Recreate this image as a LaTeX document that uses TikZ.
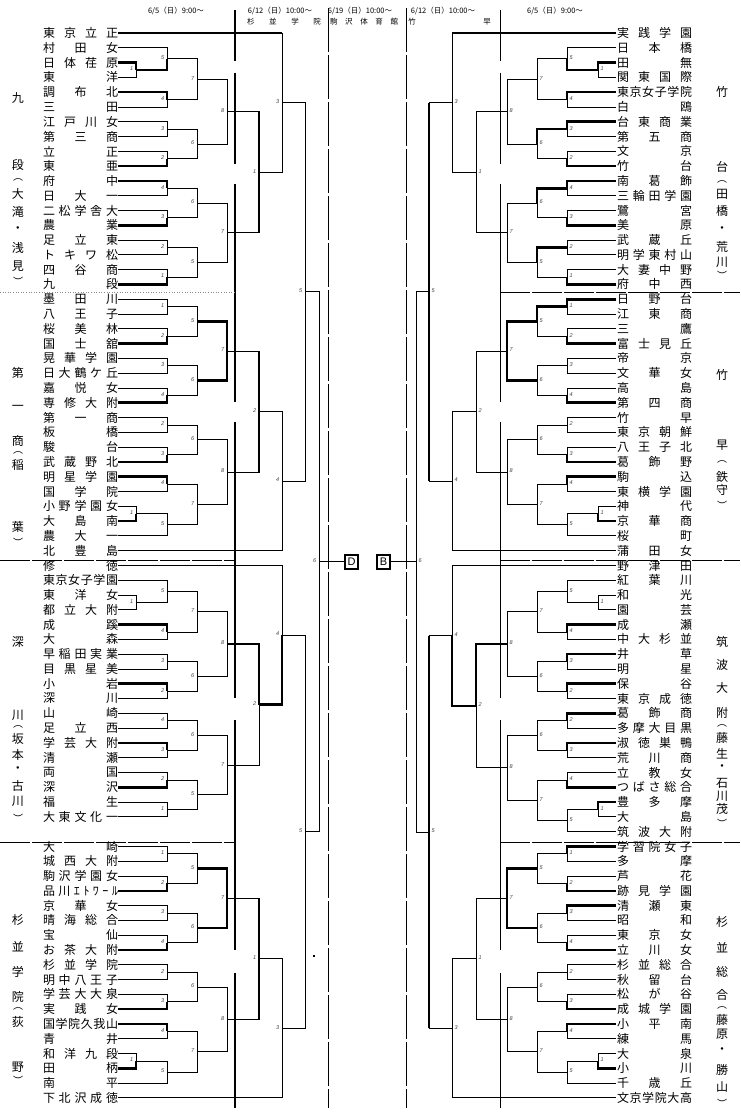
\documentclass[tikz,border=0pt]{standalone}
\usepackage{fontspec}
\setmainfont{Noto Sans CJK JP}
\newfontfamily\numfont{Liberation Sans}
\makeatletter
\def\jnend{}
\newcommand\jnx[2]{\makebox[#1][s]{\jn@loop#2\jnend}}
\def\jn@loop#1#2{#1\ifx#2\jnend\else\hfill\expandafter\jn@loop\expandafter#2\fi}
\makeatother
\newcount\mcnt
\newcommand\Y[1]{(33+14.79*(#1))}
\tikzset{
  ln/.style={line width=0.8pt},
  tk/.style={line width=2.6pt, line join=miter},
  tname/.style={font=\fontsize{12}{12}\selectfont, inner sep=0pt},
  lbl/.style={font=\numfont\itshape\fontsize{5.5}{6}\selectfont, text=black!75, inner sep=0pt},
  dist/.style={font=\fontsize{12}{12}\selectfont, inner sep=0pt},
  par/.style={font=\fontsize{10}{10}\selectfont, inner sep=0pt},
  hd/.style={font=\fontsize{7.5}{8}\selectfont, inner sep=0pt},
  septhick/.style={line width=2.4pt},
  septhin/.style={line width=0.8pt},
  dbox/.style={draw, line width=1.6pt, minimum width=13pt, minimum height=14pt, inner sep=0pt, font=\numfont\fontsize{11}{11}\selectfont},
}
% match: #1 x of vertical, #2 row a, #3 x start a, #4 row b, #5 x start b, #6 thick a/b/f/x/n, #7 label
\newcommand\MT[7]{%
  \draw[ln] ({#3},{\Y{#2}}) -- ({#1},{\Y{#2}}) -- ({#1},{\Y{#4}}) -- ({#5},{\Y{#4}});
  \if a#6\draw[tk] ({#3},{\Y{#2}}) -- ({#1},{\Y{#2}}) -- ({#1},{\Y{(#2+#4)/2}});\fi
  \if b#6\draw[tk] ({#5},{\Y{#4}}) -- ({#1},{\Y{#4}}) -- ({#1},{\Y{(#2+#4)/2}});\fi
  \if f#6\draw[tk] ({#1},{\Y{#2}}) -- ({#1},{\Y{#4}});\fi
  \if x#6\draw[tk] ({#3},{\Y{#2}}) -- ({#1},{\Y{#2}}) -- ({#1},{\Y{#4}}) -- ({#5},{\Y{#4}});\fi
  \global\advance\mcnt by 1
}
\newcommand\LM[7]{\MT{#1}{#2}{#3}{#4}{#5}{#6}{#7}%
  \node[lbl,anchor=east] (ml\the\mcnt) at ({#1-2.5},{\Y{(#2+#4)/2}-1}) {#7};}
\newcommand\RM[7]{\MT{#1}{#2}{#3}{#4}{#5}{#6}{#7}%
  \node[lbl,anchor=west] (mr\the\mcnt) at ({#1+2.5},{\Y{(#2+#4)/2}-1}) {#7};}
\newcommand\TL[2]{\node[tname] (tl#1) at (80.5,{\Y{#1}}) {\jnx{75pt}{#2}};}
\newcommand\TR[2]{\node[tname] (tr#1) at (654.5,{\Y{#1}}) {\jnx{75pt}{#2}};}
\newcommand\DL[3]{\node[dist] (#1) at (18,#2) {#3};}
\newcommand\DR[3]{\node[dist] (#1) at (722,#2) {#3};}
\newcommand\PL[3]{\node[par] (#1) at (18,#2) {#3};}
\newcommand\PR[3]{\node[par] (#1) at (722,#2) {#3};}
\begin{document}
\begin{tikzpicture}[x=1pt,y=-1pt]
\useasboundingbox (0,0) rectangle (740,1118);
\fill[white] (0,0) rectangle (740,1118);
% ---------- headers
\node[hd] (h1) at (176,11) {6/5（日）9:00〜};
\node[hd] (h2) at (280,11) {6/12（日）10:00〜};
\node[hd] (h3) at (284,22) {\jnx{74pt}{杉並学院}};
\node[hd] (h4) at (360,11) {6/19（日）10:00〜};
\node[hd] (h5) at (364,22) {\jnx{68pt}{駒沢体育館}};
\node[hd] (h6) at (443,11) {6/12（日）10:00〜};
\node[hd] (h7) at (412,22) {竹};
\node[hd] (h8) at (487,22) {早};
\node[hd] (h9) at (555,11) {6/5（日）9:00〜};
% ---------- separators
\foreach \a/\b in {10/61,73/164,184/402,422/698,720/950,973/1108}{
  \draw[septhick] (235,\a) -- (235,\b);
  \draw[septhin] (500,\a) -- (500,\b);
}
\draw[septhin, dash pattern=on 44pt off 3pt] (328,8) -- (328,1108);
\draw[septhin, dash pattern=on 44pt off 3pt] (406,8) -- (406,1108);
\draw[line width=0.6pt, black!45, dotted] (0,292) -- (235,292);
\foreach \yy in {560,842}{
  \draw[septhin, dash pattern=on 30pt off 2pt] (0,\yy) -- (235,\yy);
}
\foreach \yy in {292,560,842}{
  \draw[septhin, dash pattern=on 30pt off 2pt] (500,\yy) -- (740,\yy);
}
% ---------- left teams
\TL{0}{東京立正}\TL{1}{村田女}\TL{2}{日体荏原}\TL{3}{東洋}\TL{4}{調布北}\TL{5}{三田}
\TL{6}{江戸川女}\TL{7}{第三商}\TL{8}{立正}\TL{9}{東亜}\TL{10}{府中}\TL{11}{日大一}
\TL{12}{二松学舎大}\TL{13}{農業}\TL{14}{足立東}\TL{15}{トキワ松}\TL{16}{四谷商}\TL{17}{九段}
\TL{18}{墨田川}\TL{19}{八王子}\TL{20}{桜美林}\TL{21}{国士舘}\TL{22}{晃華学園}\TL{23}{日大鶴ケ丘}
\TL{24}{嘉悦女}\TL{25}{専修大附}\TL{26}{第一商}\TL{27}{板橋}\TL{28}{駿台}\TL{29}{武蔵野北}
\TL{30}{明星学園}\TL{31}{国学院}\TL{32}{小野学園女}\TL{33}{大島南}\TL{34}{農大一}\TL{35}{北豊島}
\TL{36}{修徳}\TL{37}{東京女子学園}\TL{38}{東洋女}\TL{39}{都立大附}\TL{40}{成蹊}\TL{41}{大森}
\TL{42}{早稲田実業}\TL{43}{目黒星美}\TL{44}{小岩}\TL{45}{深川}\TL{46}{山崎}\TL{47}{足立西}
\TL{48}{学芸大附}\TL{49}{清瀬}\TL{50}{両国}\TL{51}{深沢}\TL{52}{福生}\TL{53}{大東文化一}
\TL{55}{大崎}\TL{56}{城西大附}\TL{57}{駒沢学園女}\TL{58}{品川ｴﾄﾜｰﾙ}\TL{59}{京華女}\TL{60}{晴海総合}
\TL{61}{宝仙}\TL{62}{お茶大附}\TL{63}{杉並学院}\TL{64}{明中八王子}\TL{65}{学芸大大泉}\TL{66}{実践女}
\TL{67}{国学院久我山}\TL{68}{青井}\TL{69}{和洋九段}\TL{70}{田柄}\TL{71}{南平}\TL{72}{下北沢成徳}
% ---------- right teams
\TR{0}{実践学園}\TR{1}{日本橋}\TR{2}{田無}\TR{3}{関東国際}\TR{4}{東京女子学院}\TR{5}{白鴎}
\TR{6}{台東商業}\TR{7}{第五商}\TR{8}{文京}\TR{9}{竹台}\TR{10}{南葛飾}\TR{11}{三輪田学園}
\TR{12}{鷺宮}\TR{13}{美原}\TR{14}{武蔵丘}\TR{15}{明学東村山}\TR{16}{大妻中野}\TR{17}{府中西}
\TR{18}{日野台}\TR{19}{江東商}\TR{20}{三鷹}\TR{21}{富士見丘}\TR{22}{帝京}\TR{23}{文華女}
\TR{24}{高島}\TR{25}{第四商}\TR{26}{竹早}\TR{27}{東京朝鮮}\TR{28}{八王子北}\TR{29}{葛飾野}
\TR{30}{駒込}\TR{31}{東横学園}\TR{32}{神代}\TR{33}{京華商}\TR{34}{桜町}\TR{35}{蒲田女}
\TR{36}{野津田}\TR{37}{紅葉川}\TR{38}{和光}\TR{39}{園芸}\TR{40}{成瀬}\TR{41}{中大杉並}
\TR{42}{井草}\TR{43}{明星}\TR{44}{保谷}\TR{45}{東京成徳}\TR{46}{葛飾商}\TR{47}{多摩大目黒}
\TR{48}{淑徳巣鴨}\TR{49}{荒川商}\TR{50}{立教女}\TR{51}{つばさ総合}\TR{52}{豊多摩}\TR{53}{大島}
\TR{54}{筑波大附}
\TR{55}{学習院女子}\TR{56}{多摩}\TR{57}{芦花}\TR{58}{跡見学園}\TR{59}{清瀬東}\TR{60}{昭和}
\TR{61}{東京女}\TR{62}{立川女}\TR{63}{杉並総合}\TR{64}{秋留台}\TR{65}{松が谷}\TR{66}{成城学園}
\TR{67}{小平南}\TR{68}{練馬}\TR{69}{大泉}\TR{70}{小川}\TR{71}{千歳丘}\TR{72}{文京学院大高}
% ---------- district labels
\DL{a1}{98}{九}\DL{a2}{165}{段}\PL{a3}{180}{︵}\DL{a4}{194}{大}\DL{a5}{212}{滝}\DL{a6}{230}{・}\DL{a7}{248}{浅}\DL{a8}{266}{見}\PL{a9}{281}{︶}
\DL{b1}{373}{第}\DL{b2}{408}{一}\DL{b3}{441}{商}\PL{b4}{453}{︵}\DL{b5}{465}{稲}\DL{b6}{527}{葉}\PL{b7}{542}{︶}
\DL{c1}{642}{深}\DL{c2}{715}{川}\PL{c3}{727}{︵}\DL{c4}{739}{坂}\DL{c5}{755}{本}\DL{c6}{770}{・}\DL{c7}{786}{古}\DL{c8}{801}{川}\PL{c9}{818}{︶}
\DL{d1}{920}{杉}\DL{d2}{947}{並}\DL{d3}{972}{学}\DL{d4}{997}{院}\PL{d5}{1009}{︵}\DL{d6}{1022}{荻}\DL{d7}{1067}{野}\PL{d8}{1080}{︶}
\DR{e1}{92}{竹}\DR{e2}{167}{台}\PR{e3}{181.5}{︵}\DR{e4}{194.5}{田}\DR{e5}{211}{橋}\DR{e6}{230}{・}\DR{e7}{247}{荒}\DR{e8}{262}{川}\PR{e9}{275}{︶}
\DR{f1}{375}{竹}\DR{f2}{445}{早}\PR{f3}{462}{︵}\DR{f4}{477}{鉄}\DR{f5}{490}{守}\PR{f6}{505}{︶}
\DR{g1}{642}{筑}\DR{g2}{665}{波}\DR{g3}{688}{大}\DR{g4}{713}{附}\PR{g5}{726}{︵}\DR{g6}{738}{藤}\DR{g7}{754}{生}\DR{g8}{768}{・}\DR{g9}{783}{石}\DR{g10}{796}{川}\DR{g11}{809}{茂}\PR{g12}{823}{︶}
\DR{k1}{922}{杉}\DR{k2}{948}{並}\DR{k3}{972}{総}\DR{k4}{995}{合}\PR{k5}{1008}{︵}\DR{k6}{1020}{藤}\DR{k7}{1034}{原}\DR{k8}{1051}{・}\DR{k9}{1070}{勝}\DR{k10}{1087}{山}\PR{k11}{1103}{︶}
% ---------- left block 1
\LM{136}{2}{118}{3}{118}{a}{1}
\LM{167}{1}{118}{2.5}{136}{b}{5}
\LM{167}{4}{118}{5}{118}{a}{4}
\LM{197}{1.75}{167}{4.5}{167}{n}{7}
\LM{167}{6}{118}{7}{118}{n}{3}
\LM{167}{8}{118}{9}{118}{b}{2}
\LM{197}{6.5}{167}{8.5}{167}{n}{6}
\LM{227}{3.125}{197}{7.5}{197}{n}{8}
\LM{167}{10}{118}{11}{118}{a}{4}
\LM{167}{12}{118}{13}{118}{b}{3}
\LM{197}{10.5}{167}{12.5}{167}{n}{6}
\LM{167}{14}{118}{15}{118}{n}{2}
\LM{167}{16}{118}{17}{118}{b}{1}
\LM{197}{14.5}{167}{16.5}{167}{n}{5}
\LM{227}{11.5}{197}{15.5}{197}{n}{7}
\LM{259}{5.3125}{227}{13.5}{227}{f}{1}
\LM{282}{0}{118}{9.40625}{259}{n}{3}
\draw[tk] (118,{\Y{0}}) -- (282,{\Y{0}});
% ---------- left block 2
\LM{167}{18}{118}{19}{118}{n}{1}
\LM{167}{20}{118}{21}{118}{b}{2}
\LM{197}{18.5}{167}{20.5}{167}{n}{5}
\LM{167}{22}{118}{23}{118}{n}{3}
\LM{167}{24}{118}{25}{118}{b}{4}
\LM{197}{22.5}{167}{24.5}{167}{n}{6}
\LM{227}{19.5}{197}{23.5}{197}{x}{7}
\LM{167}{26}{118}{27}{118}{n}{2}
\LM{167}{28}{118}{29}{118}{b}{3}
\LM{197}{26.5}{167}{28.5}{167}{n}{6}
\LM{167}{30}{118}{31}{118}{a}{4}
\LM{136}{32}{118}{33}{118}{b}{1}
\LM{167}{32.5}{136}{34}{118}{n}{5}
\LM{197}{30.5}{167}{33.25}{167}{n}{7}
\LM{227}{27.5}{197}{31.875}{197}{n}{8}
\LM{259}{21.5}{227}{29.6875}{227}{f}{2}
\LM{282}{25.59375}{259}{35}{118}{n}{4}
\LM{305}{4.703125}{282}{30.296875}{282}{n}{5}
% ---------- left block 3
\LM{136}{38}{118}{39}{118}{n}{1}
\LM{167}{37}{118}{38.5}{136}{n}{5}
\LM{167}{40}{118}{41}{118}{a}{4}
\LM{197}{37.75}{167}{40.5}{167}{n}{7}
\LM{167}{42}{118}{43}{118}{n}{3}
\LM{167}{44}{118}{45}{118}{a}{2}
\LM{197}{42.5}{167}{44.5}{167}{n}{6}
\LM{227}{39.125}{197}{43.5}{197}{n}{8}
\LM{167}{46}{118}{47}{118}{n}{4}
\LM{167}{48}{118}{49}{118}{a}{3}
\LM{197}{46.5}{167}{48.5}{167}{n}{6}
\LM{167}{50}{118}{51}{118}{b}{2}
\LM{167}{52}{118}{53}{118}{n}{1}
\LM{197}{50.5}{167}{52.5}{167}{n}{5}
\LM{227}{47.5}{197}{51.5}{197}{n}{7}
\LM{259}{41.3125}{227}{49.5}{227}{a}{2}
\LM{282}{36}{118}{45.40625}{259}{b}{4}
% ---------- left block 4
\LM{167}{55}{118}{56}{118}{n}{1}
\LM{167}{57}{118}{58}{118}{b}{2}
\LM{197}{55.5}{167}{57.5}{167}{n}{5}
\LM{167}{59}{118}{60}{118}{n}{3}
\LM{167}{61}{118}{62}{118}{b}{4}
\LM{197}{59.5}{167}{61.5}{167}{n}{6}
\LM{227}{56.5}{197}{60.5}{197}{x}{7}
\LM{167}{63}{118}{64}{118}{n}{2}
\LM{167}{65}{118}{66}{118}{b}{3}
\LM{197}{63.5}{167}{65.5}{167}{n}{6}
\LM{167}{67}{118}{68}{118}{a}{4}
\LM{136}{69}{118}{70}{118}{b}{1}
\LM{167}{69.5}{136}{71}{118}{n}{5}
\LM{197}{67.5}{167}{70.25}{167}{n}{7}
\LM{227}{64.5}{197}{68.875}{197}{n}{8}
\LM{259}{58.5}{227}{66.6875}{227}{f}{1}
\LM{282}{62.59375}{259}{72}{118}{n}{3}
\LM{305}{40.703125}{282}{67.296875}{282}{n}{5}
\LM{319}{17.5}{305}{54}{305}{n}{6}
% ---------- right block 1
\RM{598}{2}{616}{3}{616}{a}{1}
\RM{567}{1}{616}{2.5}{598}{b}{5}
\RM{567}{4}{616}{5}{616}{a}{4}
\RM{537}{1.75}{567}{4.5}{567}{n}{7}
\RM{567}{6}{616}{7}{616}{a}{3}
\RM{567}{8}{616}{9}{616}{b}{2}
\RM{537}{6.5}{567}{8.5}{567}{a}{6}
\RM{507}{3.125}{537}{7.5}{537}{n}{8}
\RM{567}{10}{616}{11}{616}{a}{4}
\RM{567}{12}{616}{13}{616}{b}{3}
\RM{537}{10.5}{567}{12.5}{567}{a}{6}
\RM{567}{14}{616}{15}{616}{n}{2}
\RM{567}{16}{616}{17}{616}{b}{1}
\RM{537}{14.5}{567}{16.5}{567}{a}{5}
\RM{507}{11.5}{537}{15.5}{537}{n}{7}
\RM{476}{5.3125}{507}{13.5}{507}{n}{1}
\RM{452}{0}{616}{9.40625}{476}{n}{3}
\draw[tk] (616,{\Y{0}}) -- (452,{\Y{0}});
% ---------- right block 2
\RM{567}{18}{616}{19}{616}{a}{1}
\RM{567}{20}{616}{21}{616}{b}{2}
\RM{537}{18.5}{567}{20.5}{567}{a}{5}
\RM{567}{22}{616}{23}{616}{n}{3}
\RM{567}{24}{616}{25}{616}{b}{4}
\RM{537}{22.5}{567}{24.5}{567}{n}{6}
\RM{507}{19.5}{537}{23.5}{537}{x}{7}
\RM{567}{26}{616}{27}{616}{n}{2}
\RM{567}{28}{616}{29}{616}{b}{3}
\RM{537}{26.5}{567}{28.5}{567}{n}{6}
\RM{567}{30}{616}{31}{616}{a}{4}
\RM{598}{32}{616}{33}{616}{b}{1}
\RM{567}{32.5}{598}{34}{616}{n}{5}
\RM{537}{30.5}{567}{33.25}{567}{n}{7}
\RM{507}{27.5}{537}{31.875}{537}{n}{8}
\RM{476}{21.5}{507}{29.6875}{507}{n}{2}
\RM{452}{25.59375}{476}{35}{616}{n}{4}
\RM{429}{4.703125}{452}{30.296875}{452}{f}{5}
% ---------- right block 3
\RM{598}{38}{616}{39}{616}{n}{1}
\RM{567}{37}{616}{38.5}{598}{n}{5}
\RM{567}{40}{616}{41}{616}{a}{4}
\RM{537}{37.75}{567}{40.5}{567}{n}{7}
\RM{567}{42}{616}{43}{616}{a}{3}
\RM{567}{44}{616}{45}{616}{a}{2}
\RM{537}{42.5}{567}{44.5}{567}{n}{6}
\RM{507}{39.125}{537}{43.5}{537}{n}{8}
\RM{567}{46}{616}{47}{616}{a}{2}
\RM{567}{48}{616}{49}{616}{a}{3}
\RM{537}{46.5}{567}{48.5}{567}{n}{6}
\RM{567}{50}{616}{51}{616}{b}{4}
\RM{598}{52}{616}{53}{616}{a}{1}
\RM{567}{52.5}{598}{54}{616}{n}{5}
\RM{537}{50.5}{567}{53.25}{567}{n}{7}
\RM{507}{47.5}{537}{51.875}{537}{n}{8}
\RM{476}{41.3125}{507}{49.6875}{507}{a}{2}
\RM{452}{36}{616}{45.5}{476}{b}{4}
% ---------- right block 4
\RM{567}{55}{616}{56}{616}{a}{1}
\RM{567}{57}{616}{58}{616}{b}{2}
\RM{537}{55.5}{567}{57.5}{567}{n}{5}
\RM{567}{59}{616}{60}{616}{a}{3}
\RM{567}{61}{616}{62}{616}{b}{4}
\RM{537}{59.5}{567}{61.5}{567}{n}{6}
\RM{507}{56.5}{537}{60.5}{537}{x}{7}
\RM{567}{63}{616}{64}{616}{n}{2}
\RM{567}{65}{616}{66}{616}{b}{3}
\RM{537}{63.5}{567}{65.5}{567}{n}{6}
\RM{567}{67}{616}{68}{616}{a}{4}
\RM{598}{69}{616}{70}{616}{b}{1}
\RM{567}{69.5}{598}{71}{616}{n}{5}
\RM{537}{67.5}{567}{70.25}{567}{n}{7}
\RM{507}{64.5}{537}{68.875}{537}{n}{8}
\RM{476}{58.5}{507}{66.6875}{507}{n}{1}
\RM{452}{62.59375}{476}{72}{616}{n}{3}
\RM{429}{40.75}{452}{67.296875}{452}{f}{5}
\RM{416}{17.5}{429}{54.0234}{429}{n}{6}
% ---------- final
\node[dbox] (D) at (351.5,{\Y{35.75}}) {D};
\node[dbox] (B) at (383.5,{\Y{35.75}}) {B};
\draw[ln] (319,{\Y{35.75}}) -- (D.west);
\draw[ln] (B.east) -- (416,{\Y{35.75}});
\fill (312.5,955) rectangle (314.5,957);
\end{tikzpicture}
\end{document}
